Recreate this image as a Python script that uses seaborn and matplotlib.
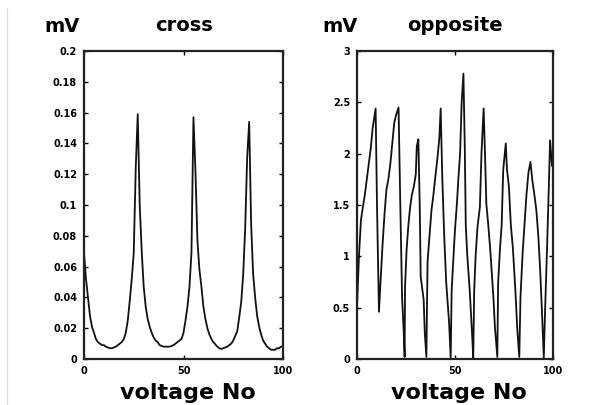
import numpy as np
import pandas as pd
import matplotlib
matplotlib.use("Agg")
import matplotlib.pyplot as plt
import seaborn as sns
from matplotlib.lines import Line2D

# ---------------------------------------------------------------
# values
# ---------------------------------------------------------------
# left panel "cross": one sample per voltage number 0..100
cross_mv = [
    0.069, 0.052, 0.040, 0.028, 0.021, 0.017, 0.013, 0.011, 0.010, 0.009,
    0.009, 0.008, 0.0075, 0.007, 0.007, 0.0075, 0.008, 0.009, 0.010, 0.011,
    0.013, 0.017, 0.025, 0.038, 0.052, 0.069, 0.124, 0.159, 0.100, 0.070,
    0.047, 0.034, 0.026, 0.021, 0.017, 0.014, 0.012, 0.011, 0.009, 0.0085,
    0.008, 0.008, 0.008, 0.008, 0.0085, 0.009, 0.010, 0.011, 0.012, 0.013,
    0.017, 0.025, 0.034, 0.047, 0.069, 0.157, 0.122, 0.077, 0.058, 0.047,
    0.034, 0.026, 0.020, 0.016, 0.013, 0.011, 0.0095, 0.008, 0.007, 0.0065,
    0.007, 0.0075, 0.008, 0.009, 0.010, 0.012, 0.015, 0.018, 0.027, 0.037,
    0.055, 0.085, 0.131, 0.154, 0.087, 0.055, 0.040, 0.028, 0.021, 0.016,
    0.012, 0.010, 0.008, 0.007, 0.006, 0.006, 0.006, 0.007, 0.007, 0.008,
    0.008,
]
cross_no = list(range(len(cross_mv)))

# right panel "opposite": vertices of the zigzag
opp_no = [
    0, 1, 2, 3, 4, 5, 6, 7, 8, 9.5, 10.2, 11.2,
    12, 13, 14, 15, 16, 17, 18, 19, 20, 21.2, 22, 23, 23.8, 24.3,
    24.5, 25.3, 26.2, 27, 28, 29, 30, 30.5, 31.3, 32, 32.5, 34, 34.6, 35.4,
    36, 37, 38, 39, 40, 41, 42, 42.7, 43.5, 44.5, 45.5, 47, 47.8,
    48.3, 49.2, 50, 51, 51.7, 52.6, 53.4, 54.3, 55, 55.5, 56.3, 57.5, 58.7, 59.3,
    59.8, 60.5, 61.5, 62.7, 63.5, 64.6, 65.3, 66, 67, 68, 69.6, 70.4, 71.6,
    72, 72.9, 73.8, 74.6, 75.9, 76.5, 77.5, 78.5, 79.5, 80.8, 81.8, 82.8,
    83.4, 84.5, 85.5, 86.5, 87.5, 88.5, 89.4, 90.5, 91.5, 92.5, 93.5, 94.5, 95.3,
    96, 97, 97.9, 98.5, 99.5,
]
opp_mv = [
    0.50, 1.00, 1.35, 1.48, 1.60, 1.75, 1.90, 2.05, 2.25, 2.44, 1.50, 0.46,
    0.75, 1.10, 1.40, 1.65, 1.75, 1.90, 2.10, 2.30, 2.38, 2.45, 1.60, 0.60, 0.28, 0.02,
    0.70, 1.06, 1.30, 1.46, 1.60, 1.68, 1.80, 2.07, 2.14, 1.50, 0.80, 0.58, 0.25, 0.02,
    0.95, 1.20, 1.45, 1.60, 1.78, 1.95, 2.15, 2.44, 1.77, 1.20, 0.75, 0.35, 0.01,
    0.67, 0.99, 1.26, 1.52, 1.75, 2.00, 2.50, 2.78, 2.05, 1.30, 1.00, 0.67, 0.25, 0.01,
    0.67, 1.00, 1.29, 1.48, 2.00, 2.44, 2.00, 1.51, 1.30, 1.06, 0.60, 0.30, 0.02,
    0.74, 1.06, 1.30, 1.84, 2.10, 1.85, 1.68, 1.30, 1.09, 0.67, 0.28, 0.02,
    0.60, 1.03, 1.32, 1.61, 1.82, 1.92, 1.75, 1.60, 1.45, 1.20, 0.85, 0.40, 0.01,
    0.50, 1.10, 1.70, 2.13, 1.88,
]

cross_ticks = [0, 0.02, 0.04, 0.06, 0.08, 0.1, 0.12, 0.14, 0.16, 0.18, 0.2]
cross_ticklabels = ["0", "0.02", "0.04", "0.06", "0.08", "0.1", "0.12",
                    "0.14", "0.16", "0.18", "0.2"]
opp_ticks = [0, 0.5, 1, 1.5, 2, 2.5, 3]
opp_ticklabels = ["0", "0.5", "1", "1.5", "2", "2.5", "3"]
x_ticks = [0, 50, 100]

df_cross = pd.DataFrame({"no": cross_no, "mv": cross_mv})
df_opp = pd.DataFrame({"no": opp_no, "mv": opp_mv})

sns.set_theme(style="ticks")
plt.rcParams["font.family"] = ["DejaVu Sans"]
plt.rcParams["text.color"] = "black"
plt.rcParams["xtick.color"] = "black"
plt.rcParams["ytick.color"] = "black"

fig = plt.figure(figsize=(5.92, 4.05), dpi=100)
fig.patch.set_facecolor("white")

W, H = 592, 405
panels = [
    (84, 283, df_cross, "cross", cross_ticks, cross_ticklabels, 0.2),
    (357, 553, df_opp, "opposite", opp_ticks, opp_ticklabels, 3),
]

for left_px, right_px, df, title, yt, ytl, ymax in panels:
    ax = fig.add_axes([left_px / W, 1 - 359 / H, (right_px - left_px) / W, 308 / H])
    ax.set_facecolor("white")
    sns.lineplot(data=df, x="no", y="mv", ax=ax, color="#111111",
                 linewidth=1.3, sort=False, estimator=None)
    ax.set_xlim(0, 100)
    ax.set_ylim(0, ymax)
    ax.set_xticks(x_ticks)
    ax.set_xticklabels([str(t) for t in x_ticks])
    ax.set_yticks(yt)
    ax.set_yticklabels(ytl)
    ax.tick_params(direction="in", length=3, width=1, top=True, right=True,
                   labelsize=7, pad=5, colors="black")
    for lab in ax.get_xticklabels() + ax.get_yticklabels():
        lab.set_fontweight("bold")
    for sp in ax.spines.values():
        sp.set_visible(True)
        sp.set_linewidth(1.6)
        sp.set_color("#222222")
    ax.set_xlabel("")
    ax.set_ylabel("")

    width_px = right_px - left_px
    mv_x = -22 / width_px if title == "cross" else -17 / width_px
    ax.text(mv_x, (359 - 31.5) / 308, "mV", transform=ax.transAxes,
            ha="center", va="baseline", fontsize=14, fontweight="bold",
            color="black")
    ax.text(0.5, (359 - 31) / 308, title, transform=ax.transAxes,
            ha="center", va="baseline", fontsize=14, fontweight="bold",
            color="black")
    ax.text(0.52, (359 - 399) / 308, "voltage No", transform=ax.transAxes,
            ha="center", va="baseline", fontsize=16, fontweight="bold",
            color="black")

# faint frame line at the left edge of the picture
fig.add_artist(Line2D([7 / W, 7 / W], [0, 1 - 8 / H], transform=fig.transFigure,
                      color="#dddddd", linewidth=1))

fig.savefig("out.png", dpi=100, facecolor="white")
